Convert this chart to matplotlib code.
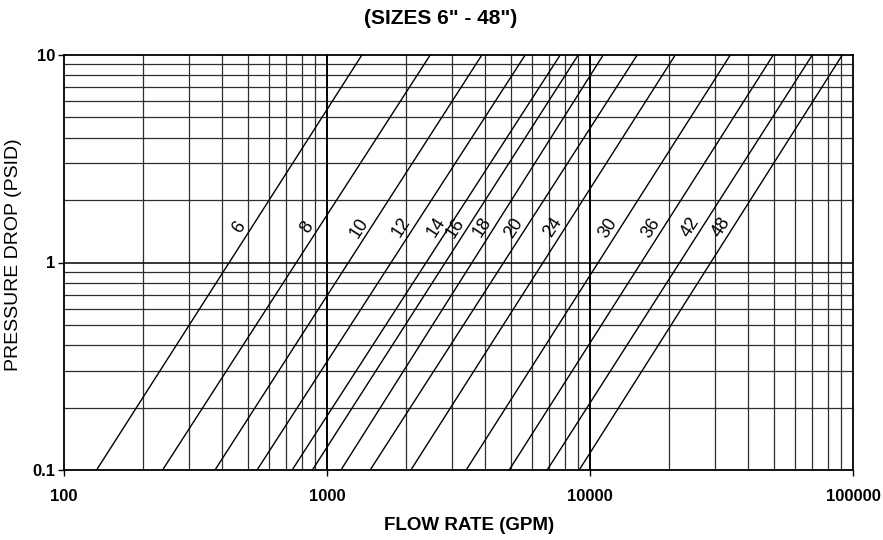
import matplotlib
matplotlib.use("Agg")
import matplotlib.pyplot as plt
from matplotlib.ticker import FixedLocator, NullFormatter, FixedFormatter
import numpy as np

# Valve sizes (inches) and flow read where each line crosses 0.1 and 10 PSID
sizes = ["6", "8", "10", "12", "14", "16", "18", "20", "24", "30", "36", "42", "48"]
flow_at_low_dp = [133, 237, 375, 542, 737, 880, 1130, 1459, 2084, 3382, 4928, 6874, 9097]
flow_at_high_dp = [1357, 2468, 3880, 5669, 7703, 9020, 11224, 15117, 21093, 34152, 49751, 70001, 91055]
dp_low, dp_high = 0.1, 10.0
label_dp = 1.45

x_ticks = [100, 1000, 10000, 100000]
x_tick_labels = ["100", "1000", "10000", "100000"]
y_ticks = [0.1, 1, 10]
y_tick_labels = ["0.1", "1", "10"]

fig = plt.figure(figsize=(8.83, 5.40), dpi=100)
ax = fig.add_axes([64/883, 70/540, (853-64)/883, (470-55)/540])
ax.set_xscale("log")
ax.set_yscale("log")
ax.set_xlim(100, 100000)
ax.set_ylim(0.1, 10)

# grid
minor_x = [m * 10**e for e in range(2, 5) for m in range(2, 10)]
minor_y = [m * 10.0**e for e in range(-1, 1) for m in range(2, 10)]
for v in minor_x:
    ax.axvline(v, color="#2e2e2e", lw=0.9, zorder=1)
for v in minor_y:
    ax.axhline(v, color="#2e2e2e", lw=0.9, zorder=1)
for v in [1000, 10000]:
    ax.axvline(v, color="black", lw=1.4, zorder=1)
ax.axhline(1, color="black", lw=1.1, zorder=1)

for s, q1, q2 in zip(sizes, flow_at_low_dp, flow_at_high_dp):
    ax.plot([q1, q2], [dp_low, dp_high], color="black", lw=1.0, zorder=3)
    t = (np.log10(label_dp) - np.log10(dp_low)) / (np.log10(dp_high) - np.log10(dp_low))
    ql = 10 ** (np.log10(q1) + t * (np.log10(q2) - np.log10(q1)))
    ax.annotate(s, xy=(ql, label_dp), xytext=(-8, 1), textcoords="offset points",
                ha="center", va="center", rotation=57, fontsize=13,
                family="Liberation Sans", zorder=4)

ax.xaxis.set_major_locator(FixedLocator(x_ticks))
ax.xaxis.set_major_formatter(FixedFormatter(x_tick_labels))
ax.xaxis.set_minor_formatter(NullFormatter())
ax.yaxis.set_major_locator(FixedLocator(y_ticks))
ax.yaxis.set_major_formatter(FixedFormatter(y_tick_labels))
ax.yaxis.set_minor_formatter(NullFormatter())
ax.tick_params(which="minor", length=0)
ax.tick_params(which="major", length=4, width=1, direction="out", pad=2)
ax.tick_params(axis="x", pad=10)
for lab in ax.get_xticklabels() + ax.get_yticklabels():
    lab.set_fontsize(12)
    lab.set_fontweight("bold")
    lab.set_family("Liberation Sans")
for sp in ax.spines.values():
    sp.set_linewidth(1.3)
    sp.set_color("black")

fig.text(469/883, 1 - 525/540, "FLOW RATE (GPM)", fontsize=13.5, fontweight="bold",
         family="Liberation Sans", ha="center", va="center")
fig.text(14/883, 1 - 255/540, "PRESSURE DROP (PSID)", rotation=90, fontsize=14,
         family="Liberation Sans", ha="center", va="center")
fig.text(441/883, 1 - 18/540, '(SIZES 6" - 48")', fontsize=15, fontweight="bold",
         family="Liberation Sans", ha="center", va="center")

fig.savefig("out.png", dpi=100)
